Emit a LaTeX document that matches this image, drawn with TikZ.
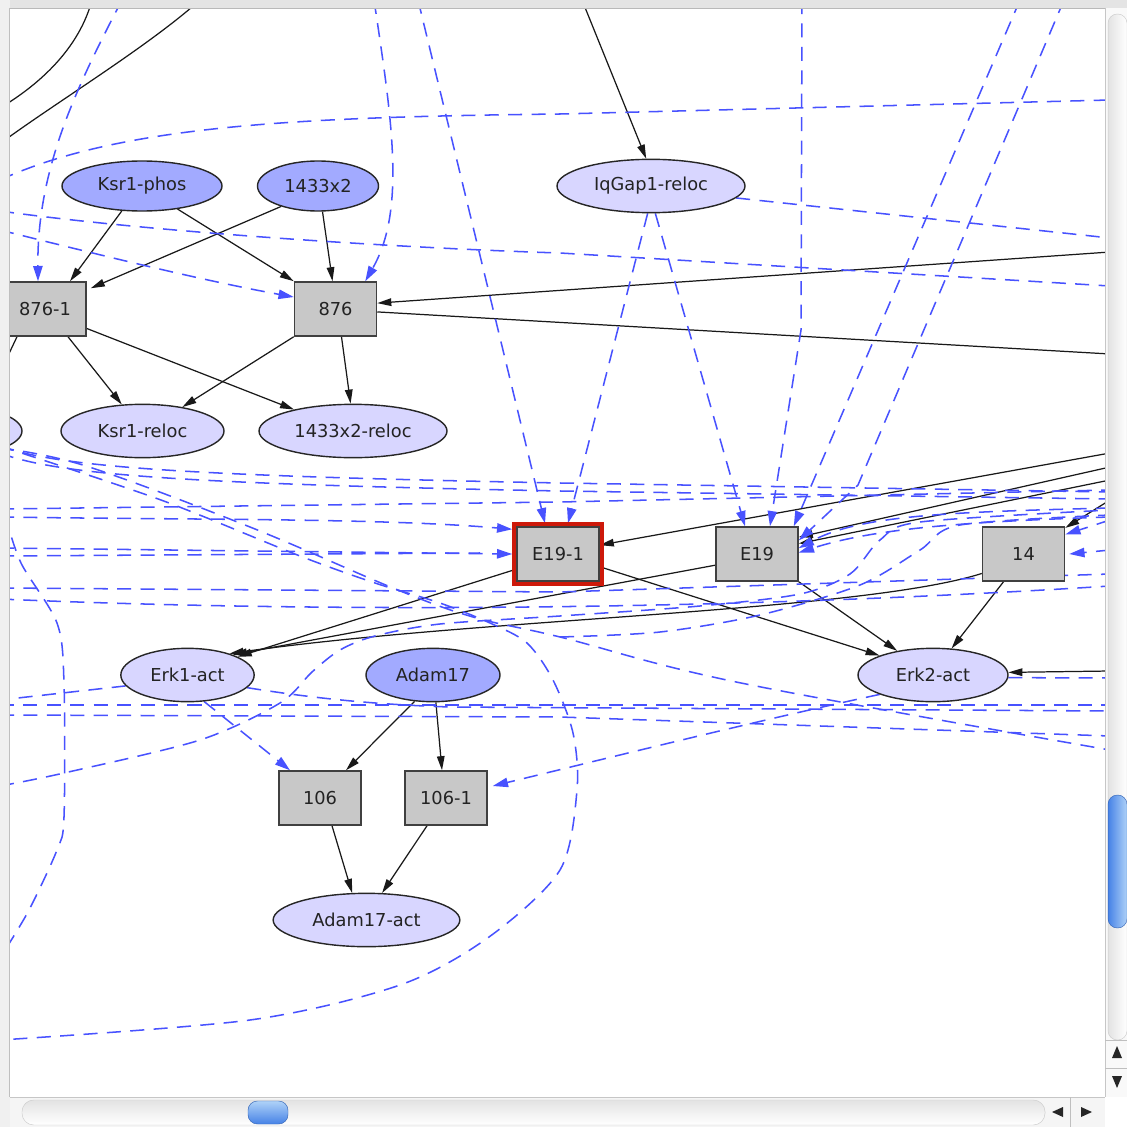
\documentclass[tikz,border=0pt]{standalone}
\usepackage{fontspec}
\setmainfont{DejaVu Sans}
\usetikzlibrary{arrows.meta,shapes.geometric,calc}
\pgfdeclarelayer{bg}
\pgfsetlayers{bg,main}
\definecolor{dblue}{RGB}{162,170,255}
\definecolor{lblue}{RGB}{216,214,255}
\definecolor{boxg}{RGB}{200,200,200}
\definecolor{eblue}{RGB}{72,82,255}
\definecolor{txt}{RGB}{35,35,35}
\definecolor{frame}{RGB}{228,228,228}
\definecolor{redb}{RGB}{205,25,10}
\definecolor{thumbd}{RGB}{70,130,230}
\definecolor{thumbl}{RGB}{175,210,248}
\begin{document}
\begin{tikzpicture}[x=0.03cm,y=-0.03cm,
  lbl/.style={font=\fontsize{15.2}{17}\selectfont, text=txt},
  ell/.style={ellipse, draw=black!85, line width=1.2pt, inner sep=0pt, minimum height=1.6cm, lbl},
  act/.style={ell, fill=dblue},
  loc/.style={ell, fill=lblue},
  rxn/.style={rectangle, draw=black!75, line width=1.3pt, fill=boxg, minimum width=2.46cm, minimum height=1.62cm, inner sep=0pt, lbl},
  sl/.style={draw=black!90, line width=1.05pt},
  sa/.style={sl, -{Triangle[length=12pt,width=6.5pt]}},
  dl/.style={draw=eblue, line width=1.3pt, dash pattern=on 12pt off 8pt},
  dla/.style={dl, -{Triangle[length=13pt,width=8pt]}}
]
\useasboundingbox (0,0) rectangle (1127,1127);
\begin{pgfonlayer}{bg}
\fill[white] (0,0) rectangle (1127,1127);
\end{pgfonlayer}

\begin{scope}
\clip (10,8) rectangle (1105,1097);
\node[act, minimum width=4.8cm, minimum height=1.5cm] (ksrphos) at (142,186) {Ksr1-phos};
\node[act, minimum width=3.63cm, minimum height=1.5cm] (x1433) at (318,186) {1433x2};
\node[loc, minimum width=5.64cm] (iqgap) at (651,186) {IqGap1-reloc};
\node[rxn] (n8761) at (45,309) {876-1};
\node[rxn] (n876) at (335.5,309) {876};
\node[loc, minimum width=4.89cm] (ksrreloc) at (142.5,431) {Ksr1-reloc};
\node[loc, minimum width=5.64cm] (reloc1433) at (353,431) {1433x2-reloc};
\node[loc, minimum width=4.92cm] (lft) at (-60,431) {};
\node[rxn] (e191) at (558,554) {E19-1};
\node[rxn] (e19) at (757,554) {E19};
\node[rxn] (n14) at (1023.5,554) {14};
\node[loc, minimum width=4cm] (erk1) at (187.5,675) {Erk1-act};
\node[act, minimum width=4.02cm] (adam17) at (433,675) {Adam17};
\node[loc, minimum width=4.5cm] (erk2) at (933,675) {Erk2-act};
\node[rxn] (n106) at (320,798) {106};
\node[rxn] (n1061) at (446,798) {106-1};
\node[loc, minimum width=5.6cm] (adamact) at (366.5,920) {Adam17-act};
\draw[redb, line width=3.4pt] ($(e191.south west)+(-2.5,2.5)$) rectangle ($(e191.north east)+(2.5,-2.5)$);
\end{scope}

\begin{pgfonlayer}{bg}
\begin{scope}
\clip (10,8) rectangle (1105,1097);
% free ends
\coordinate (tA) at (92,0); \coordinate (tA2) at (5,105);
\coordinate (tB) at (200,0); \coordinate (tB2) at (5,140);
\coordinate (cB) at (5,362);
\coordinate (cTop) at (582,0);
\coordinate (cR1) at (1110,252);
\coordinate (cR2) at (1110,354);
\coordinate (cR3) at (1110,671);
\coordinate (cR4) at (1110,453);
\coordinate (cR5) at (1110,467);
\coordinate (cR6) at (1110,480);
\coordinate (cR7) at (1110,500);
\coordinate (cR8) at (1110,520);
\coordinate (cR9) at (1110,550);
\coordinate (cR10) at (1110,508);
\coordinate (cR11) at (1110,517);
\coordinate (cD1) at (122,0);
\coordinate (cD2a) at (0,180); \coordinate (cD2b) at (1110,100);
\coordinate (cD3a) at (0,211); \coordinate (cD3b) at (1110,286);
\coordinate (cD4) at (0,230);
\coordinate (cD5) at (374,0);
\coordinate (cD6) at (418,0);
\coordinate (cD9) at (802,0);
\coordinate (cD10) at (1020,0);
\coordinate (cD11) at (1064,0);
\coordinate (cD12) at (1110,238);
\coordinate (cL1a) at (0,446); \coordinate (cL1b) at (1110,492);
\coordinate (cL1c) at (0,453); \coordinate (cL1d) at (1110,499);
\coordinate (cL2a) at (0,509); \coordinate (cL2b) at (1110,490);
\coordinate (cL3) at (0,517);
\coordinate (cL4) at (0,548); \coordinate (cL4b) at (0,556);
\coordinate (cL6a) at (0,588); \coordinate (cL6b) at (1110,574);
\coordinate (cL6c) at (0,599); \coordinate (cL6d) at (1110,586);
\coordinate (cL9a) at (0,705); \coordinate (cL9b) at (1110,705);
\coordinate (cL9c) at (0,715); \coordinate (cL9d) at (1110,736);
\coordinate (cE1) at (0,700);
\coordinate (cE2) at (1110,711);
\coordinate (cE3) at (1110,678);

% black solid edges
\draw[sl] (tA) .. controls (80,45) and (45,80) .. (tA2);
\draw[sl] (tB) .. controls (150,45) and (60,100) .. (tB2);
\draw[sa] (ksrphos.231) -- ($(n8761.north)+(25,0)$);
\draw[sa] (ksrphos.-33) -- (n876.north west);
\draw[sa] (x1433.209) -- ($(n8761.north east)+(4,7)$);
\draw[sa] (x1433.-80) -- ($(n876.north)+(-3,0)$);
\draw[sa] ($(n8761.south)+(23,0)$) -- (ksrreloc.128);
\draw[sa] (n8761.-25) -- (reloc1433.160);
\draw[sa] (n876.south west) -- (ksrreloc.31);
\draw[sa] ($(n876.south)+(6,0)$) -- (reloc1433.95);
\draw[sl] ($(n8761.south)+(-28,0)$) -- (cB);
\draw[sa] (cTop) -- (iqgap.100);
\draw[sa] (cR1) -- (n876.8);
\draw[sl] (n876.-4) -- (cR2);
\draw[sa] (e191.200) -- (erk1.20);
\draw[sa] (e19.195) -- (erk1.24);
\draw[sa] (n14.205) .. controls (860,612) and (480,618) .. (erk1.27);
\draw[sa] (e191.-17) -- (erk2.160);
\draw[sa] (e19.south east) -- (erk2.146);
\draw[sa] ($(n14.south)+(-20,0)$) -- (erk2.55);
\draw[sa] (cR3) -- (erk2.2);
\draw[sa] (cR4) -- (e191.12);
\draw[sa] (cR5) -- (e19.22);
\draw[sa] (cR6) -- (e19.14);
\draw[sa] (cR7) -- (n14.32);
\draw[sa] (adam17.235) -- ($(n106.north)+(26,0)$);
\draw[sa] (adam17.-84) -- ($(n1061.north)+(-4,0)$);
\draw[sa] ($(n106.south)+(12,0)$) -- (adamact.118);
\draw[sa] ($(n1061.south)+(-19,0)$) -- (adamact.60);

% blue dashed edges
\draw[dla] (cD1) .. controls (75,90) and (37,170) .. ($(n8761.north)+(-7,0)$);
\draw[dl] (cD2a) .. controls (120,125) and (300,117) .. (560,114) -- (cD2b);
\draw[dl] (cD3a) .. controls (150,232) and (400,248) .. (560,253) -- (cD3b);
\draw[dla] (cD4) .. controls (100,255) and (200,280) .. (n876.164);
\draw[dla] (cD5) .. controls (392,120) and (406,210) .. (n876.43);
\draw[dla] (cD6) -- ($(e191.north)+(-13,-3)$);
\draw[dla] (iqgap.-97) -- ($(e191.north)+(10,-3)$);
\draw[dla] (iqgap.-81) -- ($(e19.north)+(-12,0)$);
\draw[dla] (cD9) -- (801,330) -- ($(e19.north)+(13,0)$);
\draw[dla] (cD10) -- ($(e19.north east)+(-5,0)$);
\draw[dla] (cD11) -- (858,485) -- (e19.18);
\draw[dl] (iqgap.-8) -- (cD12);
\draw[dl] (cL1a) .. controls (60,468) and (200,476) .. (560,483) -- (cL1b);
\draw[dl] (cL1c) .. controls (60,476) and (200,484) .. (560,491) -- (cL1d);
\draw[dl] (cL2a) -- (560,502) -- (cL2b);
\draw[dla] (cL3) .. controls (200,520) and (380,518) .. ($(e191.north west)+(-4,3)$);
\draw[dla] (cL4) -- ($(e191.west)+(-4,0)$);
\draw[dl] (cL4b) -- (480,553);
\draw[dl] plot[smooth, tension=0.6] coordinates {(0,448) (86,466) (250,527) (393,588) (473,617) (560,637) (741,683) (1110,750)};
\draw[dl] (cL6a) -- (560,592) -- (cL6b);
\draw[dl] (cL6c) .. controls (300,612) and (700,612) .. (cL6d);
\draw[dl] (cL9a) -- (cL9b);
\draw[dl] (cL9c) -- (560,717) -- (cL9d);
\draw[dl] (erk1.190) -- (cE1);
\draw[dl] (erk1.-12) .. controls (300,696) and (360,704) .. (450,707) -- (cE2);
\draw[dl] plot[smooth] coordinates {(0,786) (64,773) (200,740) (280,703) (312,672) (340,650) (375,636) (440,624) (560,616) (700,606) (800,594) (850,574) (880,540) (920,522) (1110,510)};
\draw[dl] plot[smooth] coordinates {(0,446) (161,500) (300,556) (375,583) (440,603) (490,623) (527,643) (553,680) (573,733) (577,790) (560,870) (489,937) (400,985) (250,1020) (0,1040)};
\draw[dl] plot[smooth] coordinates {(5,515) (21,563) (57,623) (64,683) (64,817) (57,850) (29,910) (5,950)};
\draw[dl] plot[smooth] coordinates {(560,637) (660,632) (760,615) (860,585) (920,550) (960,525) (1110,515)};
\draw[dla] (erk1.-58) -- ($(n106.north)+(-30,0)$);
\draw[dla] (erk2.200) .. controls (760,720) and (600,760) .. ($(n1061.east)+(5,-12)$);
\draw[dl] (erk2.-2) -- (cE3);
\draw[dla] (cR8) -- (n14.25);
\draw[dla] (cR9) -- ($(n14.east)+(4,0)$);
\draw[dla] (cR10) .. controls (950,512) and (860,515) .. (e19.8);
\draw[dla] (cR11) .. controls (950,522) and (870,530) .. (e19.2);
\end{scope}
\end{pgfonlayer}

% window chrome
\fill[frame] (0,0) rectangle (1127,8);
\draw[gray!55, line width=0.8pt] (10,8) -- (1105,8);
\fill[gray!12] (0,0) rectangle (10,1127);
\draw[gray!50, line width=0.8pt] (9,8) -- (9,1097);
\fill[gray!5] (1105,8) rectangle (1127,1097);
\draw[gray!45] (1105,8) -- (1105,1097);
\shadedraw[rounded corners=8pt, left color=gray!22, right color=white, draw=gray!40] (1108,14) rectangle (1127,1040);
\shadedraw[rounded corners=8pt, left color=thumbd, right color=thumbl, draw=thumbd!80!black] (1108,795) rectangle (1127,928);
\draw[gray!50] (1105,1040) -- (1127,1040);
\draw[gray!50] (1105,1068) -- (1127,1068);
\fill[gray!30!black] (1117,1046) -- (1112,1058) -- (1122,1058) -- cycle;
\fill[gray!30!black] (1117,1088) -- (1112,1076) -- (1122,1076) -- cycle;
\fill[gray!8] (10,1097) rectangle (1105,1127);
\draw[gray!45] (10,1097) -- (1105,1097);
\shadedraw[rounded corners=10pt, top color=gray!22, bottom color=white, draw=gray!40] (22,1100) rectangle (1045,1125);
\shadedraw[rounded corners=8pt, top color=thumbl, bottom color=thumbd, draw=thumbd!80!black] (248,1101) rectangle (288,1124);
\draw[gray!50] (1070,1097) -- (1070,1127);
\fill[gray!30!black] (1052,1112) -- (1063,1107) -- (1063,1117) -- cycle;
\fill[gray!30!black] (1092,1112) -- (1081,1107) -- (1081,1117) -- cycle;
\fill[white] (1106,1098) rectangle (1127,1127);
\end{tikzpicture}
\end{document}
